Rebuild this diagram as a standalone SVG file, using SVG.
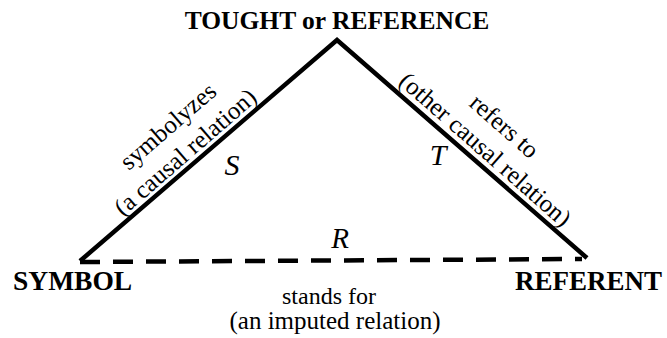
<svg xmlns="http://www.w3.org/2000/svg" width="667" height="338" viewBox="0 0 667 338">
<style>
text{font-family:"Liberation Serif","Times New Roman",serif;fill:#000;}
.b{font-weight:bold;}
.edge{fill:none;stroke:#000;stroke-width:4.5;}
</style>
<rect width="667" height="338" fill="#fff"/>
<g id="connectors">
<polyline class="edge" points="80,261 337,40 587,258" stroke-linejoin="miter"/>
<line class="edge" x1="80" y1="262" x2="582" y2="259" stroke-dasharray="20 13"/>
</g>
<g id="thought">
<text class="b" x="337" y="29" font-size="25.5" text-anchor="middle">TOUGHT or REFERENCE</text>
</g>
<g id="symbol">
<text class="b" x="13" y="290" font-size="27.5">SYMBOL</text>
</g>
<g id="referent">
<text class="b" x="515" y="290" font-size="27">REFERENT</text>
</g>
<g id="label-s">
<text font-size="25" text-anchor="middle" transform="translate(173.4,132.3) rotate(-40.95)">symbolyzes</text>
<text font-size="25" text-anchor="middle" transform="translate(190.7,158.3) rotate(-40.95)">(a causal relation)</text>
<text font-style="italic" font-size="30" x="232" y="175" text-anchor="middle">S</text>
</g>
<g id="label-t">
<text font-size="25" text-anchor="middle" transform="translate(499,132.4) rotate(41.35)">refers to</text>
<text font-size="25" text-anchor="middle" transform="translate(479.9,155.6) rotate(41.35)">(other causal relation)</text>
<text font-style="italic" font-size="30" x="438" y="165" text-anchor="middle">T</text>
</g>
<g id="label-r">
<text font-style="italic" font-size="29" x="340" y="248" text-anchor="middle">R</text>
<text font-size="24" x="329" y="304" text-anchor="middle">stands for</text>
<text font-size="25" x="335" y="329" text-anchor="middle">(an imputed relation)</text>
</g>
</svg>
